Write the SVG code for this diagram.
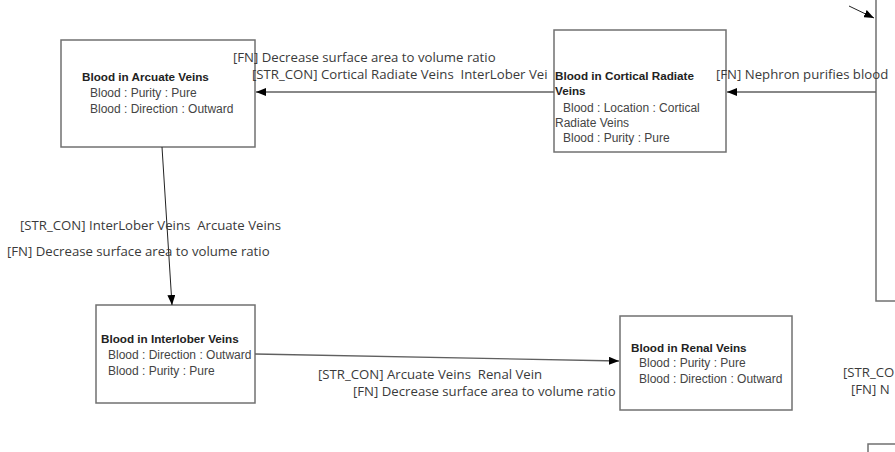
<svg xmlns="http://www.w3.org/2000/svg" width="895" height="452" viewBox="0 0 895 452">
<style>
.box{fill:#fff;stroke:#707070;stroke-width:1.5}
.t{font-family:"Liberation Sans",Arial,sans-serif;font-size:11.7px;font-weight:bold;fill:#222}
.a{font-family:"Liberation Sans",Arial,sans-serif;font-size:12px;fill:#444}
.lbl{font-family:"Open Sans","DejaVu Sans",sans-serif;font-size:13.2px;fill:#3a3a3a}
.c{stroke:#606060;stroke-width:1.3;fill:none}
.cd{stroke:#222;stroke-width:1;fill:none}
</style>
<defs>
<marker id="ah" markerWidth="10" markerHeight="8" refX="10" refY="4" orient="auto" markerUnits="userSpaceOnUse">
<path d="M0,0 L10,4 L0,8 Z" fill="#000"/>
</marker>
</defs>
<rect width="895" height="452" fill="#fff"/>
<g id="arcuate">
<rect class="box" x="61" y="40" width="194" height="107"/>
<text class="t" x="82" y="81">Blood in Arcuate Veins</text>
<text class="a" x="90" y="97">Blood : Purity : Pure</text>
<text class="a" x="90" y="113">Blood : Direction : Outward</text>
</g>
<g id="cortical">
<rect class="box" x="554" y="30" width="172" height="122"/>
<text class="t" x="555" y="80">Blood in Cortical Radiate</text>
<text class="t" x="555" y="95">Veins</text>
<text class="a" x="563" y="112">Blood : Location : Cortical</text>
<text class="a" x="555" y="127">Radiate Veins</text>
<text class="a" x="563" y="142">Blood : Purity : Pure</text>
</g>
<g id="interlober">
<rect class="box" x="96" y="305" width="159" height="98"/>
<text class="t" x="101" y="343">Blood in Interlober Veins</text>
<text class="a" x="108" y="359">Blood : Direction : Outward</text>
<text class="a" x="108" y="375">Blood : Purity : Pure</text>
</g>
<g id="renal">
<rect class="box" x="620" y="316" width="172" height="94"/>
<text class="t" x="631" y="352">Blood in Renal Veins</text>
<text class="a" x="639" y="367">Blood : Purity : Pure</text>
<text class="a" x="639" y="383">Blood : Direction : Outward</text>
</g>
<g id="nephron">
<rect class="box" x="876" y="-10" width="40" height="311"/>
</g>
<g id="bottomright">
<rect class="box" x="868" y="444" width="40" height="20"/>
</g>
<g id="connectors">
<line class="c" x1="554" y1="92" x2="256" y2="92" marker-end="url(#ah)"/>
<line class="c" x1="876" y1="92" x2="727" y2="92" marker-end="url(#ah)"/>
<line class="cd" x1="162" y1="147" x2="172" y2="305" marker-end="url(#ah)"/>
<line class="c" x1="255" y1="354" x2="619" y2="361" marker-end="url(#ah)"/>
<line class="cd" x1="849" y1="6" x2="874" y2="18" marker-end="url(#ah)"/>
<text class="lbl" x="233" y="62">[FN] Decrease surface area to volume ratio</text>
<text class="lbl" x="252" y="79" xml:space="preserve">[STR_CON] Cortical Radiate Veins  InterLober Vei</text>
<text class="lbl" x="716" y="79">[FN] Nephron purifies blood</text>
<text class="lbl" x="20" y="230" xml:space="preserve">[STR_CON] InterLober Veins  Arcuate Veins</text>
<text class="lbl" x="7" y="256">[FN] Decrease surface area to volume ratio</text>
<text class="lbl" x="318" y="379" xml:space="preserve">[STR_CON] Arcuate Veins  Renal Vein</text>
<text class="lbl" x="353" y="396">[FN] Decrease surface area to volume ratio</text>
<text class="lbl" x="843" y="377">[STR_CO</text>
<text class="lbl" x="851" y="394">[FN] N</text>
</g>
</svg>
